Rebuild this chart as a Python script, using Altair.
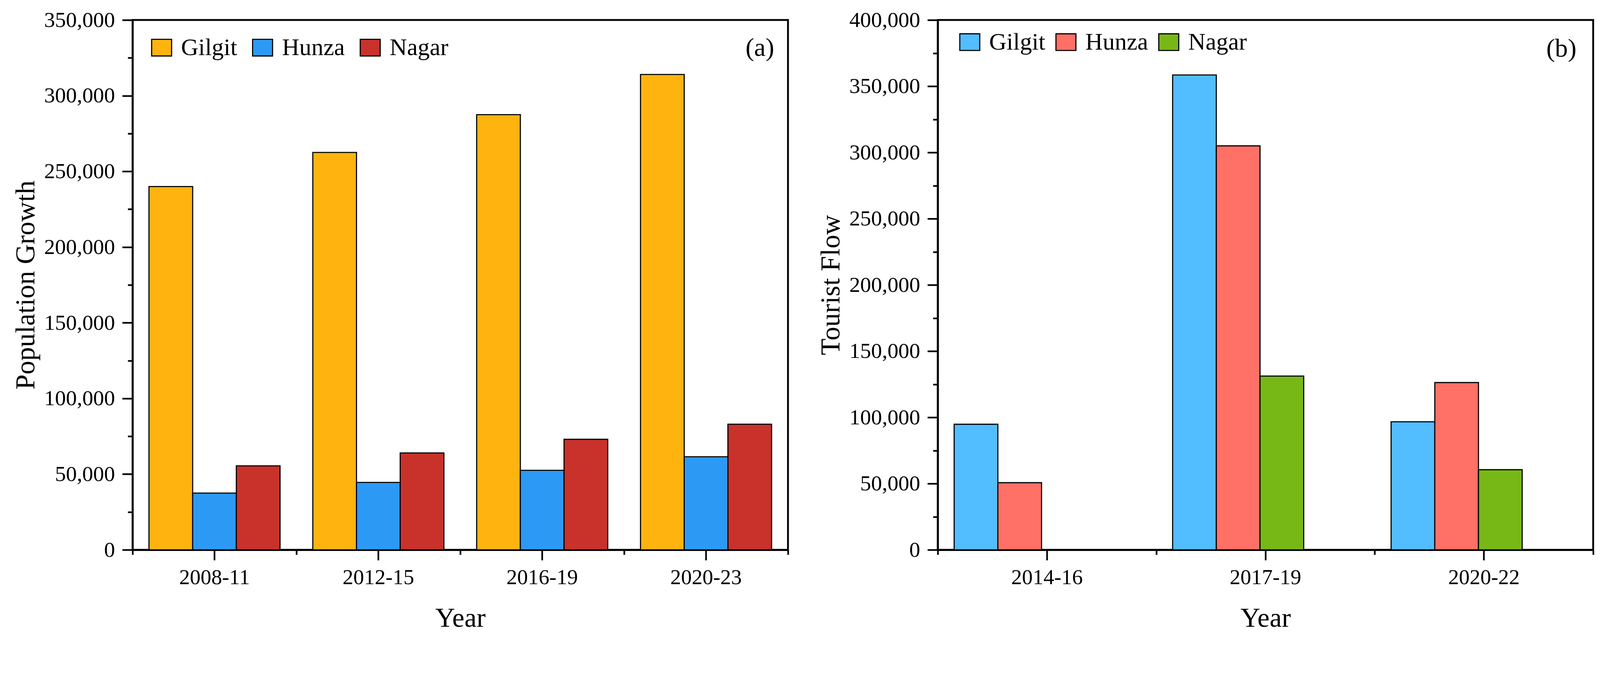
import altair as alt
import pandas as pd

# ---------------- data ----------------
districts = ["Gilgit", "Hunza", "Nagar"]

pop_years = ["2008-11", "2012-15", "2016-19", "2020-23"]
pop_gilgit = [240000, 262500, 287500, 314000]
pop_hunza = [37500, 44500, 52500, 61500]
pop_nagar = [55500, 64000, 73000, 83000]

tour_years = ["2014-16", "2017-19", "2020-22"]
tour_gilgit = [94800, 358500, 96700]
tour_hunza = [50700, 305000, 126300]
tour_nagar = [None, 131200, 60500]

pop_colors = ["#FFB30F", "#2C9AF4", "#C9322B"]
tour_colors = ["#52BDFF", "#FF7066", "#77B816"]

FONT = "Liberation Serif"


def long_df(years, series):
    rows = []
    for name, vals in zip(districts, series):
        for yr, v in zip(years, vals):
            if v is not None:
                rows.append({"Year": yr, "District": name, "Value": v})
    return pd.DataFrame(rows)


pop_df = long_df(pop_years, [pop_gilgit, pop_hunza, pop_nagar])
tour_df = long_df(tour_years, [tour_gilgit, tour_hunza, tour_nagar])

W, H = 1772, 1432
RECT = "M-1,-0.833H1V0.833H-1Z"


def panel(df, years, colors, ytitle, ymax, tag, lx, ly, colpad, tagx, tagy):
    xscale = alt.Scale(paddingInner=0, paddingOuter=0)
    yscale = alt.Scale(domain=[0, ymax], nice=False)
    major_vals = list(range(0, ymax + 1, 50000))
    minor_vals = list(range(25000, ymax, 50000))

    bars = alt.Chart(df).mark_bar(stroke="black", strokeWidth=3).encode(
        x=alt.X("Year:N", sort=years, scale=xscale,
                axis=alt.Axis(title="Year", orient="bottom", labelAngle=0,
                              labelFont=FONT, labelFontSize=58, labelColor="black",
                              labelLimit=500,
                              titleFont=FONT, titleFontSize=74, titleFontWeight="normal",
                              titleColor="black", titlePadding=45,
                              tickSize=28, tickWidth=4.5, tickColor="black",
                              labelPadding=18, domainWidth=5, domainColor="black",
                              grid=False)),
        xOffset=alt.XOffset("District:N", sort=districts,
                            scale=alt.Scale(domain=districts, paddingInner=0, paddingOuter=0.375)),
        y=alt.Y("Value:Q", scale=yscale, stack=None,
                axis=alt.Axis(title=ytitle, orient="left", values=major_vals, format=",d",
                              labelFont=FONT, labelFontSize=59, labelColor="black",
                              labelLimit=500,
                              titleFont=FONT, titleFontSize=74, titleFontWeight="normal",
                              titleColor="black", titlePadding=50,
                              tickSize=28, tickWidth=4.5, tickColor="black",
                              labelPadding=20, domainWidth=5, domainColor="black",
                              grid=False)),
        color=alt.Color("District:N", sort=districts,
                        scale=alt.Scale(domain=districts, range=colors),
                        legend=alt.Legend(orient="none", legendX=lx, legendY=ly,
                                          direction="horizontal", title=None,
                                          labelFont=FONT, labelFontSize=65, labelColor="black",
                                          labelLimit=500,
                                          symbolType=RECT, symbolSize=2916,
                                          symbolStrokeColor="black", symbolStrokeWidth=3,
                                          symbolOpacity=1, labelOffset=20,
                                          columnPadding=colpad, padding=0)),
    )

    minor = alt.Chart(df).mark_bar(opacity=0).encode(
        x=alt.X("Year:N", sort=years, scale=xscale,
                axis=alt.Axis(title=None, orient="bottom", labels=False, domain=False,
                              tickBand="extent", tickSize=13, tickWidth=4.5,
                              tickColor="black", grid=False)),
        y=alt.Y("Value:Q", scale=yscale, stack=None,
                axis=alt.Axis(title=None, orient="left", values=minor_vals, labels=False,
                              domain=False, tickSize=13, tickWidth=4.5, tickColor="black",
                              grid=False)),
    )

    label = alt.Chart(pd.DataFrame({"t": [tag]})).mark_text(
        font=FONT, fontSize=70, color="black", align="center", baseline="middle"
    ).encode(text="t:N", x=alt.value(W - tagx), y=alt.value(tagy))

    return alt.layer(bars, minor, label).resolve_axis(
        x="independent", y="independent"
    ).properties(width=W, height=H)


left = panel(pop_df, pop_years, pop_colors, "Population Growth", 350000, "(a)",
             46, 42, 35, 76, 76)
right = panel(tour_df, tour_years, tour_colors, "Tourist Flow", 400000, "(b)",
              54, 27, 22, 86, 78)

chart = alt.hconcat(left, right, spacing=72).resolve_scale(
    color="independent"
).resolve_legend(color="independent").properties(
    padding={"left": 22, "top": -33, "right": 5, "bottom": 5}
).configure(background="white").configure_view(stroke="black", strokeWidth=5, fill="white")

chart.save("out.html", embed_options={"renderer": "svg", "actions": False})
